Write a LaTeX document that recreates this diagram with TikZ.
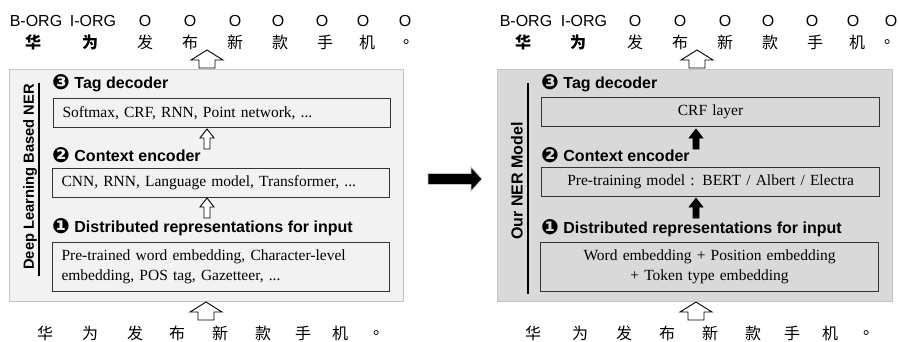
\documentclass[tikz,border=0pt]{standalone}
\usepackage{fontspec}
\setmainfont{Liberation Serif}
\setsansfont{Liberation Sans}
\newfontfamily\cjk{Noto Sans CJK SC}
\newfontfamily\dv{DejaVu Sans}
\definecolor{panelL}{HTML}{F2F2F2}
\definecolor{panelR}{HTML}{D9D9D9}
\definecolor{panelB}{HTML}{C4C4C4}
\definecolor{boxc}{HTML}{333333}
\newcommand\circnum[1]{{\dv\fontsize{21}{18}\selectfont\raisebox{-0.5pt}{#1}}}
\newcommand\period{\makebox[8pt][l]{\hspace*{-1pt}。}}
\begin{document}
\begin{tikzpicture}[x=1pt,y=-1pt,
  panel/.style={draw=panelB, line width=1pt},
  box/.style={draw=boxc, line width=1.1pt, minimum height=29pt, inner xsep=9pt, inner ysep=0pt,
    anchor=north west, text width=319pt, font=\fontsize{15.5}{20}\selectfont},
  head/.style={anchor=west, inner sep=0pt, font=\sffamily\bfseries\fontsize{16}{18}\selectfont},
  side/.style={rotate=90, inner sep=0pt, font=\sffamily\bfseries\fontsize{14.7}{16}\selectfont},
  tagl/.style={inner sep=0pt, font=\sffamily\fontsize{16}{18}\selectfont},
  chl/.style={inner sep=0pt, font=\cjk\fontsize{16}{18}\selectfont},
  chb/.style={inner sep=0pt, font=\cjk\bfseries\fontsize{16}{18}\selectfont},
  sarrow/.pic={\path[pic actions] (0,0) -- (7,9) -- (3,9) -- (3,20) -- (-3,20) -- (-3,9) -- (-7,9) -- cycle;},
  barrow/.pic={\path[pic actions] (0,0) -- (16,10) -- (8,10) -- (8,18) -- (-8,18) -- (-8,10) -- (-16,10) -- cycle;},
  hollow/.style={draw=black, fill=white, line width=0.9pt, line join=miter},
  solid/.style={draw=black, fill=black, line width=0.6pt, line join=miter}
]
\useasboundingbox (0,0) rectangle (899,341);

% ---------- left panel ----------
\node[panel, fill=panelL, anchor=north west, minimum width=394pt, minimum height=232pt, inner sep=0pt] (pl) at (9,69) {};
\draw[line width=1.5pt] (39,83) coordinate (lla) -- (39,276) coordinate (llb);
\node[side] (sl) at (30,177) {Deep Learning Based NER};

\node[head] (h3l) at (52,83) {\circnum{❸} Tag decoder};
\node[box, align=left] (b1l) at (53,98) {Softmax, CRF, RNN, Point network, ...};
\node[head] (h2l) at (52,155) {\circnum{❷} Context encoder};
\node[box, align=left] (b2l) at (52,168) {CNN, RNN, Language model, Transformer, ...};
\node[head] (h1l) at (52,227) {\circnum{❶} Distributed representations for input};
\node[box, align=left, minimum height=49pt] (b3l) at (52,242) {Pre-trained word embedding, Character-level\\embedding, POS tag, Gazetteer, ...};

\coordinate (a1l) at (207,129);
\coordinate (a2l) at (207,198);
\pic[hollow] at (a1l) {sarrow};
\pic[hollow] at (a2l) {sarrow};

% ---------- right panel ----------
\node[panel, fill=panelR, anchor=north west, minimum width=395pt, minimum height=232pt, inner sep=0pt] (pr) at (497,69) {};
\draw[line width=1.5pt] (528,83) coordinate (lra) -- (528,294) coordinate (lrb);
\node[side, font=\sffamily\bfseries\fontsize{16}{18}\selectfont] (sr) at (517,181) {Our NER Model};

\node[head] (h3r) at (541,83) {\circnum{❸} Tag decoder};
\node[box, align=center, text width=320pt] (b1r) at (541,97) {CRF layer};
\node[head] (h2r) at (541,155) {\circnum{❷} Context encoder};
\node[box, align=center, text width=320pt] (b2r) at (541,167) {Pre-training model : BERT / Albert / Electra};
\node[head] (h1r) at (541,228) {\circnum{❶} Distributed representations for input};
\node[box, align=center, text width=320pt, minimum height=49pt] (b3r) at (540,242) {Word embedding + Position embedding\\+ Token type embedding};

\coordinate (a1r) at (696,129);
\coordinate (a2r) at (696,198);
\pic[solid] at (a1r) {sarrow};
\pic[solid] at (a2r) {sarrow};

% ---------- middle arrow ----------
\coordinate (ma) at (428,179);
\path[fill=black, draw=panelB, line width=0.8pt, line join=miter]
  (ma) ++(0,-5.5) -- ++(43,0) -- ++(0,-6.5) -- ++(11,12) -- ++(-11,12) -- ++(0,-6.5) -- ++(-43,0) -- cycle;

% ---------- input / output arrows ----------
\coordinate (tl) at (207,50);
\coordinate (bl) at (206,302);
\coordinate (tr) at (697,50);
\coordinate (br) at (696,302);
\pic[hollow] at (tl) {barrow};
\pic[hollow] at (bl) {barrow};
\pic[hollow] at (tr) {barrow};
\pic[hollow] at (br) {barrow};

% ---------- tags (top) ----------
\foreach \t/\x [count=\i] in {B-ORG/36, I-ORG/93, O/145, O/190, O/235, O/278, O/322, O/363, O/405}
  \node[tagl] (tagl\i) at (\x,21) {\t};
\foreach \t/\x [count=\i] in {B-ORG/526, I-ORG/584, O/635, O/680, O/725, O/768, O/812, O/853, O/891}
  \node[tagl] (tagr\i) at (\x,21) {\t};

% ---------- characters (top) ----------
\node[chb] (ctl1) at (33,42) {华};
\node[chb] (ctl2) at (90,42) {为};
\foreach \c/\x [count=\i from 3] in {发/145, 布/190, 新/235, 款/280, 手/325, 机/367}
  \node[chl] (ctl\i) at (\x,42) {\c};
\node[chl] (ctl9) at (408,42) {\period};
\node[chb] (ctr1) at (523,42) {华};
\node[chb] (ctr2) at (578,42) {为};
\foreach \c/\x [count=\i from 3] in {发/635, 布/680, 新/725, 款/770, 手/815, 机/857}
  \node[chl] (ctr\i) at (\x,42) {\c};
\node[chl] (ctr9) at (889,42) {\period};

% ---------- characters (bottom) ----------
\foreach \c/\x [count=\i] in {华/45, 为/90, 发/135, 布/177, 新/220, 款/263, 手/303, 机/340}
  \node[chl] (cbl\i) at (\x,333) {\c};
\node[chl] (cbl9) at (378,333) {\period};
\foreach \c/\x [count=\i] in {华/533, 为/580, 发/624, 布/667, 新/710, 款/753, 手/792, 机/830}
  \node[chl] (cbr\i) at (\x,333) {\c};
\node[chl] (cbr9) at (868,333) {\period};
\end{tikzpicture}
\end{document}
